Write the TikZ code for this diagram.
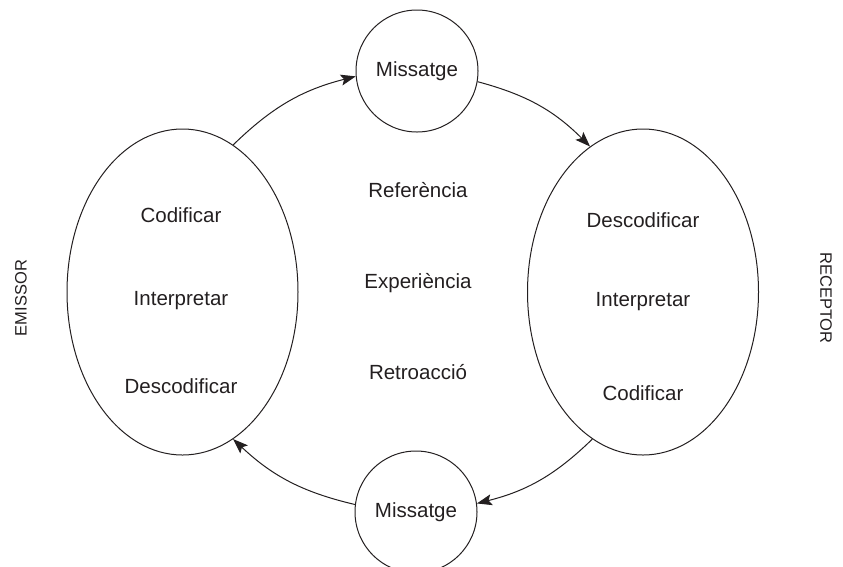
\documentclass[tikz,border=0pt]{standalone}
\usepackage{fontspec}
\setmainfont{Liberation Sans}
\usetikzlibrary{shapes.geometric,arrows.meta}
\definecolor{ink}{RGB}{35,31,32}
\begin{document}
\begin{tikzpicture}[x=1pt,y=-1pt,
  every node/.style={font=\fontsize{20.5}{24}\selectfont,text=ink},
  oval/.style={draw=ink,ellipse,line width=1pt,minimum width=231pt,minimum height=326pt,inner sep=0pt},
  msg/.style={draw=ink,circle,line width=1pt,minimum size=122pt,inner sep=0pt},
  lbl/.style={font=\fontsize{16.5}{19}\selectfont},
  flow/.style={draw=ink,line width=1pt,-{Stealth[length=15pt,width=11pt,inset=3pt]}}]
\path[use as bounding box] (0,0) rectangle (843,566);
\node[oval] (L) at (182.5,292) {};
\node[oval] (R) at (643,292) {};
\node[msg] (T) at (417,71) {Missatge};
\node[msg] (B) at (416,512) {Missatge};
\node (l1) at (181,215) {Codificar};
\node (l2) at (181,301) {Interpretar};
\node (l3) at (181,386) {Descodificar};
\node (r1) at (643,220) {Descodificar};
\node (r2) at (643,302) {Interpretar};
\node (r3) at (643,393) {Codificar};
\node (c1) at (418,190) {Referència};
\node (c2) at (418,283) {Experiència};
\node (c3) at (418,372) {Retroacció};
\node[lbl,rotate=90] (em) at (21,298) {EMISSOR};
\node[lbl,rotate=-90] (re) at (826,298) {RECEPTOR};
\draw[flow] (L.71) to[bend left=15] (T.185);
\draw[flow] (T.-10) to[bend left=15] (R.110);
\draw[flow] (R.251) to[bend left=15] (B.8);
\draw[flow] (B.173) to[bend left=15] (L.-71);
\end{tikzpicture}
\end{document}
